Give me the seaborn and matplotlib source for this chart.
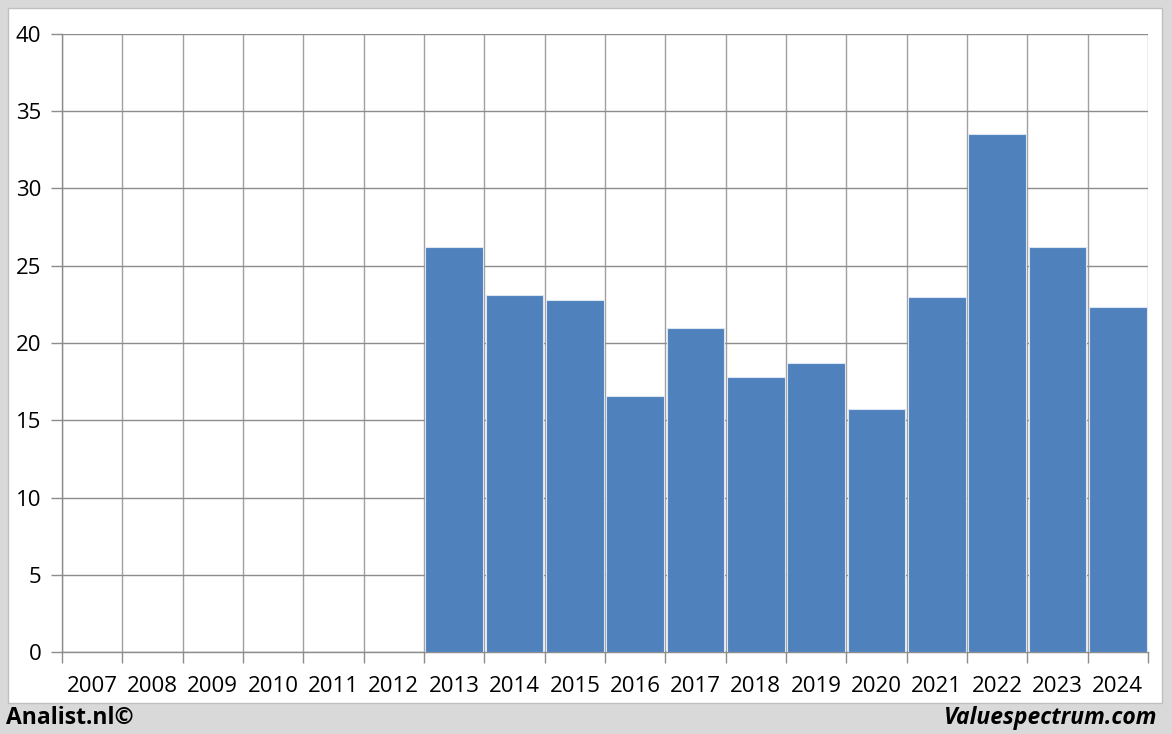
import numpy as np
import pandas as pd
import matplotlib
matplotlib.use("Agg")
import matplotlib.pyplot as plt
from matplotlib.patches import Rectangle
from matplotlib.ticker import FixedLocator
import seaborn as sns

# data
years = [str(y) for y in range(2007, 2025)]
values = [np.nan, np.nan, np.nan, np.nan, np.nan, np.nan,
          26.2, 23.1, 22.8, 16.6, 21.0, 17.8, 18.7, 15.7, 23.0, 33.5, 26.2, 22.3]
y_ticks = [0, 5, 10, 15, 20, 25, 30, 35, 40]

df = pd.DataFrame({"year": years, "value": values})

sns.set_theme(style="white")
plt.rcParams["font.family"] = ["Open Sans", "DejaVu Sans"]

fig = plt.figure(figsize=(11.72, 7.34), dpi=100)
fig.patch.set_facecolor("#d9d9d9")

# white chart panel, behind the axes
panel = Rectangle((0.0068, 0.0422), 0.9846, 0.9469, transform=fig.transFigure,
                  facecolor="white", edgecolor="#c0c0c0", linewidth=1, zorder=-5)
fig.patches.append(panel)

ax = fig.add_axes([0.0529, 0.1117, 0.9266, 0.842])
ax.set_facecolor("none")

sns.barplot(data=df, x="year", y="value", color="#4f81bd", saturation=1,
            width=0.96, edgecolor="#dce6f2", linewidth=0.8, ax=ax, zorder=3)

ax.set_xlim(-0.5, len(years) - 0.5)
ax.set_ylim(0, 40)
ax.set_yticks(y_ticks)
ax.set_xlabel("")
ax.set_ylabel("")

# gridlines between categories
ax.xaxis.set_minor_locator(FixedLocator(np.arange(-0.5, len(years), 1.0)))
ax.grid(which="minor", axis="x", color="#a0a0a0", linewidth=1, zorder=1)
ax.grid(which="major", axis="y", color="#8c8c8c", linewidth=1, zorder=1)
ax.set_axisbelow(True)

ax.tick_params(axis="x", which="major", length=0, pad=17, labelsize=16, labelcolor="black")
ax.tick_params(axis="x", which="minor", length=8, width=1, color="#8c8c8c", bottom=True)
ax.tick_params(axis="y", which="major", length=8, width=1, color="#8c8c8c", left=True,
               pad=7, labelsize=16, labelcolor="black")

for side in ["top", "right"]:
    ax.spines[side].set_visible(False)
for side in ["left", "bottom"]:
    ax.spines[side].set_color("#8c8c8c")
    ax.spines[side].set_linewidth(1)

fig.text(0.005, 0.022, "Analist.nl©", fontsize=16.5, fontweight="bold",
         ha="left", va="center", color="black")
fig.text(0.988, 0.022, "Valuespectrum.com", fontsize=16.5, fontweight="bold",
         fontstyle="italic", ha="right", va="center", color="black")

fig.savefig("out.png", dpi=100, facecolor=fig.get_facecolor())
